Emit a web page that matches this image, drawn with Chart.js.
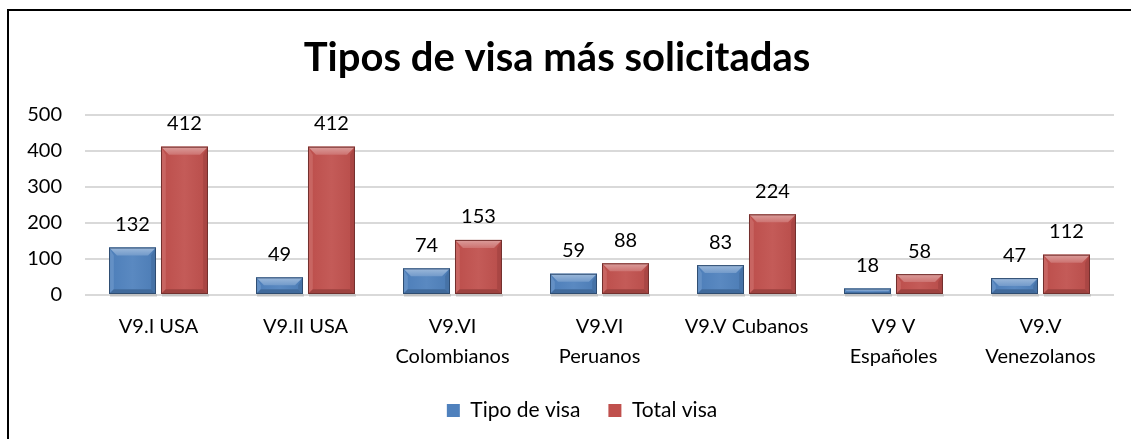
<!DOCTYPE html>
<html><head><meta charset="utf-8">
<script src="https://cdn.jsdelivr.net/npm/chart.js@4/dist/chart.umd.min.js"></script>
<style>html,body{margin:0;padding:0;background:#fff;}#wrap{position:relative;width:1131px;height:439px;}</style>
</head><body><div id="wrap"><canvas id="c" width="1131" height="439"></canvas></div>
<script>
const categories = [["V9.I USA"],["V9.II USA"],["V9.VI","Colombianos"],["V9.VI","Peruanos"],["V9.V Cubanos"],["V9 V","Españoles"],["V9.V","Venezolanos"]];
const tipoVisa = [132, 49, 74, 59, 83, 18, 47];
const totalVisa = [412, 412, 153, 88, 224, 58, 112];
const seriesNames = ["Tipo de visa", "Total visa"];
const FONT = "Lato, 'Liberation Sans', sans-serif";

function shade(hex, f){
  const n=parseInt(hex.slice(1),16);let r=n>>16,g=(n>>8)&255,b=n&255;
  if(f>0){r+=(255-r)*f;g+=(255-g)*f;b+=(255-b)*f;}else{r*=1+f;g*=1+f;b*=1+f;}
  return `rgb(${Math.round(r)},${Math.round(g)},${Math.round(b)})`;
}

const borderPlugin = {id:'border', afterDraw(chart){
  const ctx=chart.ctx;ctx.save();ctx.strokeStyle='#000';ctx.lineWidth=2;
  ctx.beginPath();ctx.moveTo(8,439);ctx.lineTo(8,10);ctx.lineTo(1140,10);ctx.stroke();ctx.restore();
}};

// shift the legend block a little to the right, as in the original
const legendShift = {id:'legendShift', afterLayout(chart){
  if(chart.legend){chart.legend.left+=25;chart.legend.right+=25;}
}};

const bevelPlugin = {id:'bevel', afterDatasetsDraw(chart){
  const ctx=chart.ctx;
  chart.data.datasets.forEach((ds,di)=>{
    const meta=chart.getDatasetMeta(di);
    meta.data.forEach((bar)=>{
      const {x,y,base,width}=bar.getProps(['x','y','base','width'],true);
      const l=x-width/2,r=x+width/2,t=y,b=base,h=b-t;
      const bv=Math.min(8,h/2);
      const c=ds.baseColor;
      ctx.save();
      ctx.fillStyle='rgba(0,0,0,0.10)';ctx.fillRect(l+1,b,width,3);
      const g=ctx.createLinearGradient(l,0,r,0);
      g.addColorStop(0,shade(c,-0.02));g.addColorStop(0.5,shade(c,0.06));g.addColorStop(1,shade(c,-0.04));
      ctx.fillStyle=g;ctx.fillRect(l,t,width,h);
      const tg=ctx.createLinearGradient(0,t,0,t+bv);
      tg.addColorStop(0,shade(c,0.45));tg.addColorStop(1,shade(c,0.2));
      ctx.fillStyle=tg;
      ctx.beginPath();ctx.moveTo(l,t);ctx.lineTo(r,t);ctx.lineTo(r-bv,t+bv);ctx.lineTo(l+bv,t+bv);ctx.closePath();ctx.fill();
      ctx.fillStyle=shade(c,0.12);
      ctx.beginPath();ctx.moveTo(l,t);ctx.lineTo(l+bv*0.6,t+bv);ctx.lineTo(l+bv*0.6,b-bv*0.6);ctx.lineTo(l,b);ctx.closePath();ctx.fill();
      ctx.fillStyle=shade(c,-0.12);
      ctx.beginPath();ctx.moveTo(r,t);ctx.lineTo(r-bv*0.6,t+bv);ctx.lineTo(r-bv*0.6,b-bv*0.6);ctx.lineTo(r,b);ctx.closePath();ctx.fill();
      ctx.fillStyle=shade(c,-0.18);
      ctx.beginPath();ctx.moveTo(l,b);ctx.lineTo(l+bv*0.6,b-bv*0.6);ctx.lineTo(r-bv*0.6,b-bv*0.6);ctx.lineTo(r,b);ctx.closePath();ctx.fill();
      ctx.strokeStyle=shade(c,-0.4);ctx.lineWidth=1;ctx.strokeRect(l+0.5,t+0.5,width-1,h-1);
      ctx.restore();
    });
  });
}};

const labelPlugin = {id:'vlabels', afterDatasetsDraw(chart){
  const ctx=chart.ctx;ctx.save();ctx.font=`20px ${FONT}`;ctx.fillStyle='#000';ctx.textAlign='center';ctx.textBaseline='middle';
  chart.data.datasets.forEach((ds,di)=>{
    chart.getDatasetMeta(di).data.forEach((bar,i)=>{
      ctx.fillText(String(ds.data[i]), bar.x, bar.y-23);
    });
  });
  ctx.restore();
}};

new Chart(document.getElementById('c'),{
  type:'bar',
  data:{labels:categories,datasets:[
    {label:seriesNames[0],data:tipoVisa,backgroundColor:'#4F81BD',baseColor:'#4F81BD',borderWidth:0},
    {label:seriesNames[1],data:totalVisa,backgroundColor:'#C0504D',baseColor:'#C0504D',borderWidth:0}
  ]},
  options:{
    responsive:false,animation:false,
    layout:{padding:{top:16,right:17,bottom:8,left:0}},
    datasets:{bar:{categoryPercentage:0.707,barPercentage:0.904}},
    plugins:{
      title:{display:true,text:'Tipos de visa más solicitadas',color:'#000',font:{family:FONT,size:40,weight:'bold'},padding:{top:18,bottom:33}},
      legend:{position:'bottom',labels:{color:'#000',font:{family:FONT,size:21},boxWidth:13,boxHeight:13,padding:28}},
      tooltip:{enabled:false}
    },
    scales:{
      x:{grid:{display:false,drawTicks:false},border:{display:false},afterFit(s){s.height=77;},
        ticks:{color:'#000',font:{family:FONT,size:20,lineHeight:1.5},padding:17,maxRotation:0,autoSkip:false}},
      y:{min:0,max:500,afterFit(s){s.width=85;},
        grid:{color:'#d9d9d9',lineWidth:2,drawTicks:false},border:{display:false},
        ticks:{stepSize:100,color:'#000',font:{family:FONT,size:20},padding:23}}
    }
  },
  plugins:[borderPlugin,legendShift,bevelPlugin,labelPlugin]
});
</script></body></html>
